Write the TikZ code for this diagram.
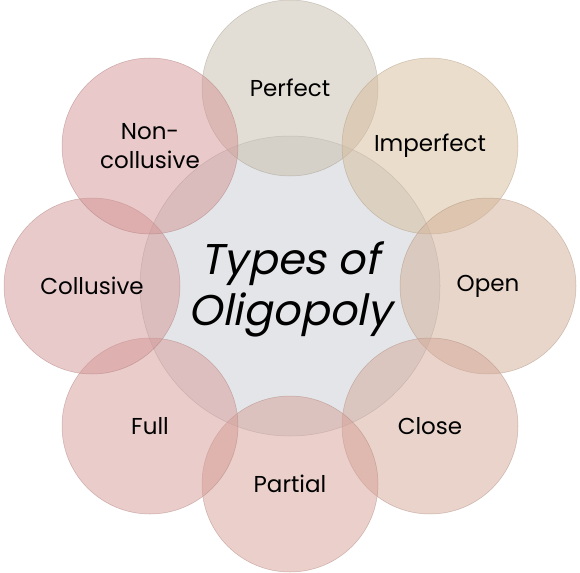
\documentclass[tikz,border=0pt]{standalone}
\usepackage{fontspec}
\setmainfont{Poppins}[AutoFakeSlant=0.2]
\begin{document}
\begin{tikzpicture}[x=1pt,y=-1pt,
  petal/.style={circle,minimum size=176pt,inner sep=0pt,fill=#1,fill opacity=0.5,draw=#1!80!black,draw opacity=0.5,line width=0.5pt,text opacity=1,text=black,font=\fontsize{23}{29}\selectfont,align=center},
  hub/.style={circle,minimum size=300pt,inner sep=0pt,fill=hubc,fill opacity=0.65,draw=hubc!70!black,draw opacity=0.5,line width=0.5pt},
  hubtext/.style={inner sep=0pt,text=black,font=\fontsize{43}{51}\selectfont\itshape,align=center}]
\definecolor{hubc}{RGB}{214,216,221}
\definecolor{cA}{RGB}{200,190,172}
\definecolor{cB}{RGB}{214,188,155}
\definecolor{cC}{RGB}{210,175,150}
\definecolor{cD}{RGB}{212,168,152}
\definecolor{cE}{RGB}{214,160,150}
\definecolor{cF}{RGB}{214,155,150}
\definecolor{cG}{RGB}{212,150,150}
\definecolor{cH}{RGB}{212,148,148}
\useasboundingbox (0,0) rectangle (580,572);
\fill[white] (0,0) rectangle (580,572);
\node[hub] (hub) at (290,286) {};
\node[hubtext] (hubt) at (290,289) {Types of\\Oligopoly};
\node[petal=cA] (perfect) at (290,88) {Perfect};
\node[petal=cB] (imperfect) at (430,146) {Imperfect};
\node[petal=cC] (open) at (488,286) {Open};
\node[petal=cD] (close) at (430,426) {Close};
\node[petal=cE] (partial) at (290,484) {Partial};
\node[petal=cF] (full) at (150,426) {Full};
\node[petal=cG] (collusive) at (92,286) {Collusive};
\node[petal=cH] (noncollusive) at (150,146) {Non-\\collusive};
\end{tikzpicture}
\end{document}
